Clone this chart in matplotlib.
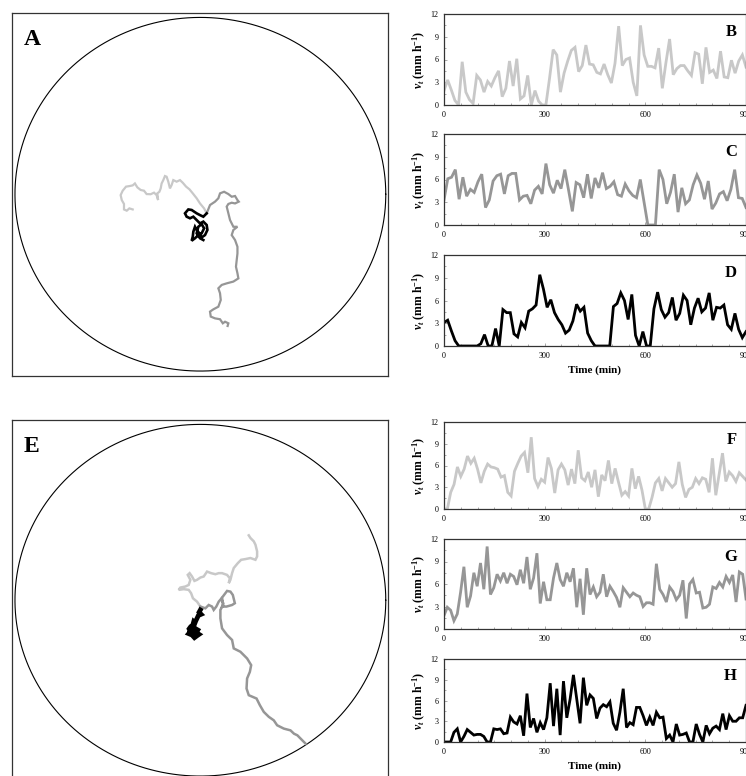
import numpy as np
import matplotlib
matplotlib.use('Agg')
import matplotlib.pyplot as plt
from matplotlib.ticker import MultipleLocator

plt.rcParams['font.family'] = ['Liberation Serif', 'DejaVu Serif']
plt.rcParams['mathtext.fontset'] = 'custom'
plt.rcParams['mathtext.rm'] = 'Liberation Serif:bold'
plt.rcParams['mathtext.it'] = 'Liberation Serif:italic:bold'
plt.rcParams['mathtext.bf'] = 'Liberation Serif:bold'

LIGHT = '#c8c8c8'
MID = '#969696'
DARK = '#000000'

# ---------------- speed series (mm h^-1), 0..900 min ----------------
vB = [1.9, 3.3, 2.0, 0.6, 0, 5.7, 1.7, 0.7, 0.2, 3.9,
      3.3, 1.7, 3.1, 2.5, 3.6, 4.5, 1.1, 2.2, 5.8, 2.5,
      6.1, 0.8, 1.2, 3.9, 0, 1.9, 0.5, 0, 0, 3.5,
      7.3, 6.6, 1.7, 4.2, 5.8, 7.2, 7.6, 4.4, 5.2, 7.9,
      5.4, 5.3, 4.3, 4.1, 5.4, 4.0, 2.9, 5.5, 10.4, 5.2,
      6.0, 6.2, 3.0, 1.2, 10.5, 6.6, 5.1, 5.1, 4.9, 7.5,
      2.2, 5.6, 8.7, 4.0, 4.8, 5.2, 5.2, 4.5, 3.9, 6.9,
      6.7, 2.8, 7.6, 4.3, 4.6, 3.5, 7.1, 3.7, 3.6, 5.9,
      4.2, 5.8, 6.6, 5.0]
vC = [3.3, 6.1, 6.3, 7.3, 3.4, 6.3, 3.8, 4.7, 4.3, 5.7,
      6.7, 2.3, 3.3, 5.8, 6.5, 6.7, 4.1, 6.5, 6.8, 6.8,
      3.3, 3.8, 3.9, 2.8, 4.6, 5.1, 4.1, 8.1, 5.3, 4.2,
      5.9, 4.8, 7.3, 4.6, 1.8, 5.6, 5.3, 3.6, 6.7, 3.5,
      6.2, 4.9, 6.9, 4.8, 5.1, 5.7, 4.0, 3.8, 5.4, 4.5,
      3.9, 3.6, 6.0, 3.0, 0, 0, 0, 7.3, 6.0, 2.8,
      4.3, 6.7, 1.7, 4.9, 2.8, 3.3, 5.3, 6.6, 5.5, 3.4,
      5.8, 2.1, 2.9, 4.1, 4.4, 3.2, 4.7, 7.3, 3.6, 3.5,
      2.3]
vD = [3.1, 3.4, 2.0, 0.7, 0, 0, 0, 0, 0, 0,
      0.3, 1.5, 0, 0, 2.3, 0, 4.8, 4.4, 4.4, 1.6,
      1.2, 3.1, 2.4, 4.6, 4.9, 5.4, 9.4, 7.5, 5.1, 6.1,
      4.4, 3.5, 2.8, 1.7, 2.1, 3.3, 5.5, 4.6, 5.1, 1.7,
      0.7, 0, 0, 0, 0, 0, 5.2, 5.6, 7.0, 6.0,
      3.5, 6.8, 1.4, 0, 1.9, 0, 0, 4.9, 7.1, 4.8,
      3.8, 4.4, 6.4, 3.4, 4.3, 6.7, 6.0, 2.8, 5.0, 6.3,
      4.5, 5.0, 7.0, 3.4, 5.1, 5.0, 5.4, 2.8, 2.2, 4.3,
      2.2, 1.1, 1.9]
vF = [0, 0, 2.3, 3.4, 5.8, 4.5, 5.5, 7.3, 6.3, 7.0,
      5.5, 3.6, 5.2, 6.2, 5.8, 5.7, 5.5, 4.4, 4.6, 2.3,
      1.8, 5.2, 6.3, 7.3, 7.8, 5.0, 9.9, 4.2, 3.1, 4.1,
      3.7, 7.1, 5.6, 2.2, 5.4, 6.2, 5.4, 3.3, 5.5, 3.5,
      8.1, 4.3, 3.9, 5.1, 3.0, 5.4, 1.7, 4.7, 3.9, 6.7,
      3.5, 5.6, 3.7, 1.9, 2.4, 1.8, 5.6, 2.8, 4.5, 2.6,
      0, 0, 1.6, 3.6, 4.2, 2.5, 4.2, 3.6, 3.0, 3.5,
      6.5, 3.4, 1.6, 2.7, 3.0, 4.2, 3.5, 4.3, 4.1, 2.3,
      7.0, 1.9, 4.8, 7.7, 3.8, 5.1, 4.6, 3.8, 5.0, 4.5,
      4.0]
vG = [1.8, 2.9, 2.5, 1.1, 2.0, 4.9, 8.3, 2.9, 4.4, 7.5,
      5.7, 8.8, 5.3, 11.0, 4.6, 5.5, 7.3, 6.4, 7.5, 6.1,
      7.3, 7.0, 5.9, 7.9, 6.1, 9.6, 5.3, 6.8, 10.1, 3.4,
      6.3, 3.9, 3.9, 6.8, 8.8, 6.6, 5.7, 7.5, 6.3, 8.1,
      2.9, 6.7, 1.9, 8.1, 4.6, 5.6, 4.3, 4.9, 7.3, 4.3,
      5.7, 5.0, 4.2, 2.9, 5.5, 4.9, 4.3, 4.8, 4.5, 4.3,
      3.0, 3.5, 3.5, 3.3, 8.7, 5.3, 4.6, 3.6, 5.6, 5.0,
      3.9, 4.5, 6.5, 1.4, 6.0, 6.6, 4.8, 4.9, 2.8, 2.9,
      3.3, 5.6, 5.4, 6.2, 5.6, 7.0, 6.2, 7.2, 3.6, 7.6,
      7.3, 4.0]
vH = [0, 0, 0, 1.4, 1.9, 0, 0.8, 1.8, 1.4, 1.0,
      1.1, 1.1, 0.8, 0, 0, 1.9, 1.8, 1.9, 1.2, 1.3,
      3.6, 2.9, 2.6, 3.8, 0.9, 7.0, 2.1, 3.4, 1.4, 2.8,
      1.8, 3.5, 8.5, 2.3, 7.7, 1.0, 8.8, 3.5, 6.2, 9.7,
      6.2, 2.7, 9.3, 5.3, 6.8, 6.3, 3.4, 4.9, 5.4, 5.1,
      5.8, 2.7, 1.7, 4.3, 7.7, 2.1, 2.8, 2.5, 5.0, 5.0,
      3.8, 2.4, 3.6, 2.4, 4.3, 3.5, 3.6, 0.5, 1.0, 0,
      2.6, 1.0, 1.1, 1.3, 0, 0, 2.6, 1.1, 0, 2.4,
      1.2, 2.0, 2.3, 1.8, 4.1, 1.8, 3.8, 3.0, 3.0, 3.5,
      3.5, 5.3]

# ---------------- trajectories (arena radius = 100) ----------------
A_light_x = [3.4, 2.0, -0.2, -2.0, -4.1, -5.9, -7.7, -9.5, -11.0, -12.8, -14.6, -15.5, -16.4, -17.3,
             -18.2, -19.1, -20.0, -20.9, -21.4, -22.1, -23.2, -22.8, -23.6, -25.0, -26.8, -29.0,
             -30.4, -32.2, -34.0, -35.3, -36.5, -38.3, -40.1, -41.9, -43.0, -42.4, -41.2, -41.2,
             -39.7, -38.3, -36.5]
A_light_y = [-10.8, -8.0, -5.2, -2.3, 0.5, 2.8, 4.3, 6.5, 8.0, 7.1, 8.0, 5.2, 3.3, 7.1,
             9.9, 10.3, 8.0, 6.1, 3.3, 1.4, 0.5, -3.3, -0.5, 0.9, 0.0, 0.1,
             2.0, 2.4, 3.9, 6.1, 5.0, 4.6, 4.3, 2.0, -0.5, -3.3, -5.5, -8.6,
             -9.3, -8.0, -8.6]
A_mid_x = [3.4, 5.2, 7.9, 9.7, 10.6, 12.8, 15.1, 16.9, 18.7, 20.0, 20.7, 18.7, 16.9, 15.1, 14.2,
           15.1, 16.0, 17.8, 20.0, 17.8, 16.9, 18.7, 20.0, 20.0, 19.6, 19.2, 20.0, 20.5, 17.8,
           14.2, 11.5, 9.7, 10.6, 11.0, 9.7, 7.0, 5.2, 5.6, 7.9, 10.6, 12.1, 13.3, 15.1, 14.7]
A_mid_y = [-10.8, -6.1, -4.2, -2.3, 0.5, 1.4, 0.1, -1.4, -1.0, -3.3, -4.2, -5.2, -4.8, -5.5, -7.0,
           -10.8, -14.6, -18.4, -18.4, -20.2, -23.1, -25.9, -29.7, -33.5, -37.2, -41.0, -44.7, -47.6, -49.4,
           -50.4, -51.3, -53.2, -56.0, -59.8, -63.6, -65.1, -66.4, -69.2, -70.2, -70.7, -73.0, -72.1, -73.0, -74.5]
A_dark_x = [3.4, 1.6, -0.2, -2.0, -4.7, -6.5, -8.3, -7.4, -5.6, -3.8, -2.0, -0.2, 1.6, 3.4, 3.8,
            2.5, 0.7, -0.5, -2.0, -2.9, -3.8, -4.1, -4.7, -2.9, -1.1, 0.7, 2.0, 0.7, -1.1, -2.0, -0.2, 1.6]
A_dark_y = [-10.8, -12.7, -11.8, -10.8, -8.9, -8.6, -10.8, -12.7, -13.6, -12.7, -14.6, -16.5, -15.5, -17.4, -20.2,
            -23.1, -24.4, -22.1, -20.2, -18.4, -21.2, -24.0, -26.3, -24.9, -23.1, -22.1, -19.3, -16.9, -18.4, -22.1, -24.9, -25.9]

E_light_x = [0, -1.8, -4.0, -5.0, -6.3, -9.0, -11.7, -10.8, -8.1, -6.3, -5.4, -6.8, -5.8, -4.5, -3.2,
             -1.8, 0, 1.8, 3.6, 5.8, 8.1, 9.9, 11.7, 14.4, 15.9, 15.3, 16.2, 17.1, 18.0, 20.2, 22.0,
             24.3, 27.0, 29.7, 30.6, 30.6, 29.7, 28.8, 27.0, 26.1]
E_light_y = [-3.6, -0.8, 1.1, 4.0, 5.9, 6.3, 5.9, 7.2, 7.8, 8.7, 11.6, 14.4, 15.4, 13.5, 11.0,
             11.6, 12.9, 13.5, 16.3, 15.4, 14.8, 15.4, 15.4, 14.4, 12.5, 9.7, 11.6, 15.4, 18.3, 21.1, 23.0,
             23.4, 24.0, 23.0, 24.9, 27.8, 31.6, 33.5, 35.4, 36.9]
E_mid_x = [0, 2.7, 4.5, 6.3, 7.2, 8.6, 9.9, 11.2, 12.3, 11.7, 14.1, 17.1, 18.6, 17.5, 16.2, 14.4,
           11.7, 12.3, 10.8, 10.8, 11.7, 14.4, 17.1, 18.0, 21.6, 25.2, 27.4, 26.7, 25.2, 24.9, 26.1,
           30.3, 32.1, 34.2, 36.9, 39.6, 41.4, 45.0, 48.6, 50.5, 52.3, 55.0, 56.8]
E_mid_y = [-3.6, -4.6, -2.7, -3.6, -5.5, -3.6, -0.8, 0.8, -1.7, -3.6, -3.6, -2.7, -1.7, 3.0, 4.9, 5.3,
           1.5, -2.7, -5.5, -10.3, -16.0, -19.8, -22.6, -27.4, -29.3, -33.1, -36.9, -40.7, -44.5, -50.2, -54.0,
           -55.9, -59.7, -63.5, -66.3, -68.3, -71.1, -73.0, -74.0, -75.9, -76.8, -79.7, -81.6]
E_dark_x = [0, -0.7, 0.4, -1.1, -1.8, -2.5, -2.9, -3.6, -4.1, -5.2, -6.1, -5.4, -6.3, -4.5, -3.2,
            -1.8, -0.7, -2.3, -1.4, -2.9, -3.6, -4.3, -5.2]
E_dark_y = [-5.5, -6.8, -8.0, -8.7, -10.3, -11.8, -12.9, -12.2, -14.1, -15.0, -16.3, -17.9, -19.0, -19.8, -21.3,
            -20.2, -19.4, -18.3, -16.9, -16.0, -17.5, -16.0, -17.5]

ARENA_R = 100

W, H = 746, 776
fig = plt.figure(figsize=(W / 100, H / 100), dpi=100)


def px_axes(x0, y0, x1, y1):
    return fig.add_axes([x0 / W, 1 - y1 / H, (x1 - x0) / W, (y1 - y0) / H])


def arena(ax, tracks, letter):
    th = np.linspace(0, 2 * np.pi, 400)
    ax.plot(ARENA_R * np.cos(th), ARENA_R * np.sin(th), color='black', lw=0.8)
    for (xs, ys, c, lw) in tracks:
        ax.plot(xs, ys, color=c, lw=lw, solid_joinstyle='miter')
    ax.set_xlim(-101.6, 101.2)
    ax.set_ylim(-102.8, 102.5)
    ax.set_xticks([])
    ax.set_yticks([])
    for s in ax.spines.values():
        s.set_linewidth(0.9)
        s.set_color('#333333')
    ax.text(0.03, 0.955, letter, transform=ax.transAxes, fontsize=17,
            fontweight='bold', va='top', ha='left')


axA = px_axes(12, 13, 388, 376)
arena(axA, [(A_light_x, A_light_y, LIGHT, 1.6), (A_mid_x, A_mid_y, MID, 1.6),
            (A_dark_x, A_dark_y, DARK, 1.9)], 'A')
axE = px_axes(12, 420, 388, 781)
arena(axE, [(E_light_x, E_light_y, LIGHT, 1.8), (E_mid_x, E_mid_y, MID, 1.8),
            (E_dark_x, E_dark_y, DARK, 3.4)], 'E')


def series(box, vals, color, letter, xlabel=False):
    ax = px_axes(*box)
    t = np.linspace(0, 900, len(vals))
    ax.plot(t, vals, color=color, lw=2.0, solid_joinstyle='miter')
    ax.set_xlim(0, 900)
    ax.set_ylim(0, 12)
    ax.set_xticks([0, 300, 600, 900])
    ax.set_yticks([0, 3, 6, 9, 12])
    ax.xaxis.set_minor_locator(MultipleLocator(50))
    ax.yaxis.set_minor_locator(MultipleLocator(1.5))
    ax.tick_params(which='both', direction='in', labelsize=5.8, pad=4, width=0.5, color='#888888')
    ax.tick_params(which='major', length=2.5)
    ax.tick_params(which='minor', length=1.5)
    for s in ax.spines.values():
        s.set_linewidth(0.9)
        s.set_color('#333333')
    ax.set_ylabel(r'$v_t$ (mm h$^{-1}$)', fontsize=8.5, fontweight='bold', labelpad=2)
    ax.text(0.97, 0.89, letter, transform=ax.transAxes, fontsize=12,
            fontweight='bold', va='top', ha='right')
    if xlabel:
        ax.set_xlabel('Time (min)', fontsize=8, fontweight='bold', labelpad=4)
    return ax


series((444, 14, 746, 105), vB, LIGHT, 'B')
series((444, 134, 746, 225), vC, MID, 'C')
series((444, 255, 746, 346), vD, DARK, 'D', xlabel=True)
series((444, 422, 746, 509), vF, LIGHT, 'F')
series((444, 539, 746, 629), vG, MID, 'G')
series((444, 659, 746, 742), vH, DARK, 'H', xlabel=True)

fig.savefig('out.png', dpi=100)
